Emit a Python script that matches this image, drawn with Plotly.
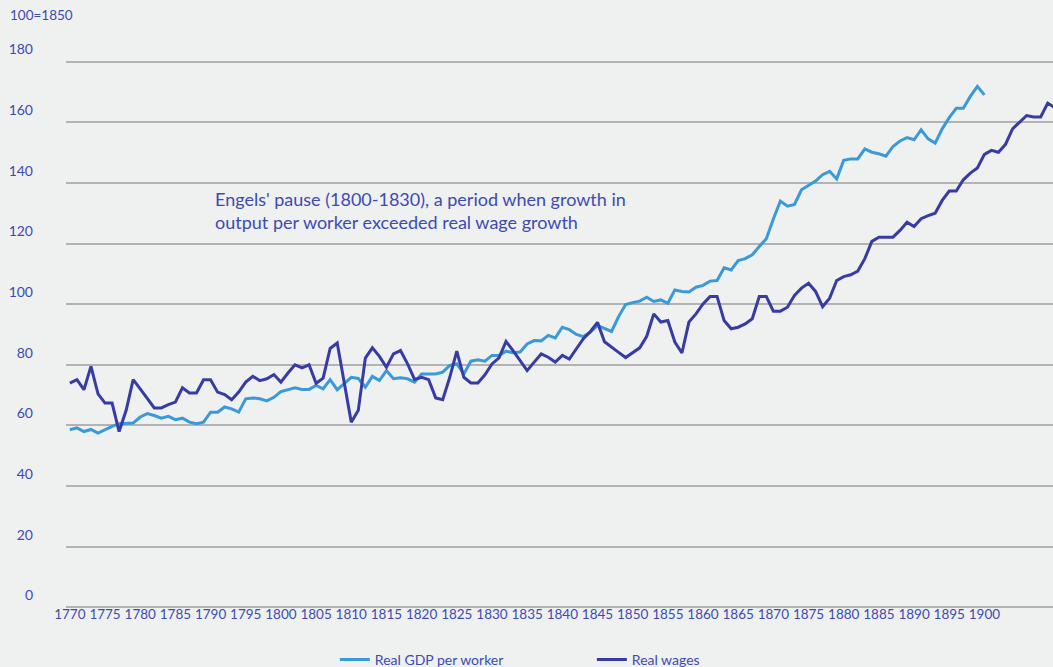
import plotly.graph_objects as go

years = list(range(1770, 1911))

gdp_per_worker = [
    58.6, 59.2, 58.0, 58.7, 57.5, 58.7, 59.7, 60.6, 60.8, 60.8,   # 1770-1779
    62.8, 63.9, 63.3, 62.4, 63.0, 61.9, 62.4, 61.1, 60.6, 61.1,   # 1780-1789
    64.4, 64.4, 66.1, 65.5, 64.4, 68.8, 69.1, 68.8, 68.1, 69.3,   # 1790-1799
    71.2, 71.9, 72.4, 71.9, 71.9, 73.2, 72.1, 75.1, 71.8, 73.8,   # 1800-1809
    75.9, 75.5, 72.6, 76.2, 74.8, 78.1, 75.4, 75.7, 75.4, 74.3,   # 1810-1819
    77.0, 77.0, 77.0, 77.6, 79.8, 80.3, 77.0, 81.2, 81.7, 81.2,   # 1820-1829
    83.1, 83.1, 84.5, 84.0, 84.2, 86.9, 88.0, 87.9, 89.7, 88.9,   # 1830-1839
    92.4, 91.6, 90.0, 89.3, 90.8, 93.0, 92.0, 91.0, 95.9, 99.9,   # 1840-1849
    100.5, 101.0, 102.3, 100.9, 101.4, 100.3, 104.7, 104.2, 104.0, 105.6,  # 1850-1859
    106.2, 107.6, 107.8, 112.0, 111.3, 114.4, 115.0, 116.3, 119.0, 121.6,  # 1860-1869
    128.1, 134.0, 132.3, 132.9, 137.7, 139.3, 140.6, 142.7, 143.8, 141.3,  # 1870-1879
    147.4, 147.9, 147.9, 151.2, 150.1, 149.6, 148.8, 152.0, 153.8, 154.9,  # 1880-1889
    154.2, 157.5, 154.5, 153.1, 157.8, 161.5, 164.6, 164.6, 168.5, 171.8,  # 1890-1899
    169.0,                                                                 # 1900
    None, None, None, None, None, None, None, None, None, None,            # 1901-1910
]

real_wages = [
    74.0, 75.1, 71.8, 79.5, 70.4, 67.4, 67.4, 58.0, 65.0, 75.1,   # 1770-1779
    72.1, 69.0, 65.8, 65.8, 66.9, 67.7, 72.4, 70.7, 70.7, 75.1,   # 1780-1789
    75.1, 71.0, 70.2, 68.5, 71.0, 74.3, 76.2, 74.8, 75.4, 76.8,   # 1790-1799
    74.3, 77.3, 80.0, 79.0, 80.0, 73.9, 75.6, 85.4, 87.2, 74.2,   # 1800-1809
    61.1, 65.0, 82.2, 85.6, 82.8, 79.2, 83.6, 84.7, 80.3, 75.2,   # 1810-1819
    75.9, 75.1, 69.1, 68.5, 75.9, 84.5, 75.9, 74.0, 74.0, 76.7,   # 1820-1829
    80.3, 82.3, 87.7, 84.7, 81.4, 78.1, 80.9, 83.6, 82.5, 80.9,   # 1830-1839
    83.1, 81.9, 85.3, 88.6, 91.0, 94.0, 87.6, 85.7, 84.1, 82.4,   # 1840-1849
    84.0, 85.6, 89.4, 96.8, 94.1, 94.6, 87.5, 83.9, 94.1, 96.8,   # 1850-1859
    100.1, 102.5, 102.5, 94.6, 91.9, 92.4, 93.5, 95.2, 102.5, 102.5,  # 1860-1869
    97.7, 97.7, 99.0, 102.9, 105.3, 106.9, 104.2, 99.2, 102.0, 107.8,  # 1870-1879
    109.1, 109.7, 110.9, 115.0, 120.7, 122.1, 122.1, 122.1, 124.3, 127.0,  # 1880-1889
    125.6, 128.2, 129.2, 130.0, 134.2, 137.3, 137.3, 141.0, 143.2, 144.9,  # 1890-1899
    149.4, 150.7, 150.1, 152.7, 157.8, 160.0, 162.2, 161.7, 161.7, 166.3,  # 1900-1909
    164.8,                                                                  # 1910
]

x_ticks = list(range(1770, 1901, 5))
y_ticks = list(range(0, 181, 20))

TEXT = "#3c4bb2"
BG = "#eff0f0"
GRID = "#b3b3b3"
FONT = "Lato"

fig = go.Figure()
fig.add_trace(go.Scatter(
    x=years, y=gdp_per_worker, name="Real GDP per worker", mode="lines",
    line=dict(color="#3a9ad9", width=3), connectgaps=False,
))
fig.add_trace(go.Scatter(
    x=years, y=real_wages, name="Real wages", mode="lines",
    line=dict(color="#373ca5", width=3),
))

fig.update_layout(
    width=1053, height=667,
    margin=dict(l=66, r=0, t=60, b=58),
    paper_bgcolor=BG, plot_bgcolor=BG,
    font=dict(family=FONT, size=14, color=TEXT),
    showlegend=True,
    legend=dict(
        orientation="h", xref="container", yref="container",
        x=0.318, y=0.0105, xanchor="left", yanchor="middle",
        font=dict(size=14, color=TEXT), bgcolor="rgba(0,0,0,0)",
        entrywidth=212, entrywidthmode="pixels",
    ),
    xaxis=dict(
        range=[1769.45, 1909.75], tickmode="array", tickvals=x_ticks,
        ticktext=[str(t) for t in x_ticks], tickangle=0,
        showgrid=False, zeroline=False, showline=False, ticks="",
        ticklabelstandoff=-5,
        tickfont=dict(size=13.5, color=TEXT),
    ),
    yaxis=dict(
        range=[-0.5, 180.5], tickmode="array", tickvals=y_ticks,
        showgrid=True, gridcolor=GRID, gridwidth=2,
        zeroline=False, showline=False, ticks="",
        ticklabelshift=-12, ticklabelstandoff=32,
        tickfont=dict(size=14, color=TEXT),
    ),
    annotations=[
        dict(text="100=1850", xref="paper", yref="paper",
             x=-0.0588, y=1.0824, xanchor="left", yanchor="middle",
             showarrow=False, font=dict(size=13.5, color=TEXT)),
        dict(text="Engels' pause (1800-1830), a period when growth in<br>"
                  "output per worker exceeded real wage growth",
             xref="paper", yref="paper", x=0.149, y=0.726,
             xanchor="left", yanchor="middle", align="left",
             showarrow=False, font=dict(size=18, color=TEXT)),
    ],
)

fig.write_html("out.html", config={"displayModeBar": False},
               post_script="document.body.style.margin='0px';")
